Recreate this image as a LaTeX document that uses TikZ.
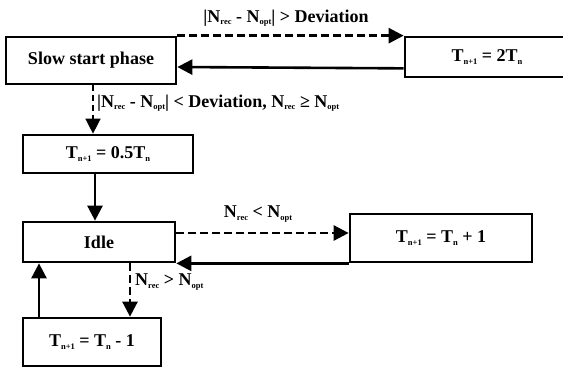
\documentclass[tikz,border=0pt]{standalone}
\usepackage{fontspec}
\setmainfont{Liberation Serif}
\usetikzlibrary{arrows.meta,calc}
% small lowered index text, as in T_{n+1}
\newcommand{\lowsub}[1]{\raisebox{-2.5pt}{\fontsize{8.5}{9}\selectfont #1}}
\begin{document}
\begin{tikzpicture}[x=1pt,y=-1pt,
  box/.style={draw,line width=2.7pt,inner sep=0pt,font=\fontsize{18}{20}\selectfont\bfseries},
  lbl/.style={font=\fontsize{18}{20}\selectfont\bfseries,inner sep=0pt},
  flow/.style={line width=2.6pt,-{Triangle[length=15pt,width=15pt]}},
  dashflow/.style={flow,dash pattern=on 8pt off 4pt}]
\fill[white] (0,0) rectangle (563,368);
\useasboundingbox (0,0) rectangle (563,368);
\clip (0,0) rectangle (563,368);

% states
\node[box,minimum width=170pt,minimum height=47pt] (slow) at (91,60.5) {Slow start phase};
\node[box,minimum width=164pt,minimum height=40pt] (dbl) at (487,57) {T\lowsub{n+1} = 2T\lowsub{n}};
\node[box,minimum width=170pt,minimum height=38pt] (half) at (108,154) {T\lowsub{n+1} = 0.5T\lowsub{n}};
\node[box,minimum width=152pt,minimum height=40pt] (idle) at (99,242) {Idle};
\node[box,minimum width=182pt,minimum height=48pt] (inc) at (441,238) {T\lowsub{n+1} = T\lowsub{n} + 1};
\node[box,minimum width=138pt,minimum height=48pt] (dec) at (92,342) {T\lowsub{n+1} = T\lowsub{n} - 1};

% slow start <-> doubling
\draw[dashflow] (slow.north east) -- (dbl.north west);
\node[lbl] (c0) at (286,18) {|N\lowsub{rec} - N\lowsub{opt}| > Deviation};
\draw[flow] ($(dbl.south west)+(0,-10)$) -- ($(slow.east)+(0,6.5)$);

% slow start -> halving
\draw[dashflow,line width=1.5pt,dash pattern=on 6pt off 4pt] ($(slow.south)+(2,0)$) -- ($(half.north)+(-15,0)$);
\node[lbl,anchor=west] (c1) at (97,103) {|N\lowsub{rec} - N\lowsub{opt}| < Deviation, N\lowsub{rec} ≥ N\lowsub{opt}};

% halving -> idle
\draw[flow] ($(half.south)+(-13,0)$) -- ($(idle.north)+(-4,0)$);

% idle <-> increment
\draw[dashflow] ($(idle.east)+(0,-9)$) -- ($(inc.west)+(0,-5)$);
\node[lbl] (c2) at (258,214) {N\lowsub{rec} < N\lowsub{opt}};
\draw[flow] (inc.south west) -- (idle.south east);

% idle <-> decrement
\draw[dashflow] ($(idle.south)+(31,0)$) -- ($(dec.north)+(38,0)$);
\node[lbl,anchor=west] (c3) at (135,282) {N\lowsub{rec} > N\lowsub{opt}};
\draw[flow] ($(dec.north)+(-53,0)$) -- ($(idle.south)+(-60,0)$);
\end{tikzpicture}
\end{document}
